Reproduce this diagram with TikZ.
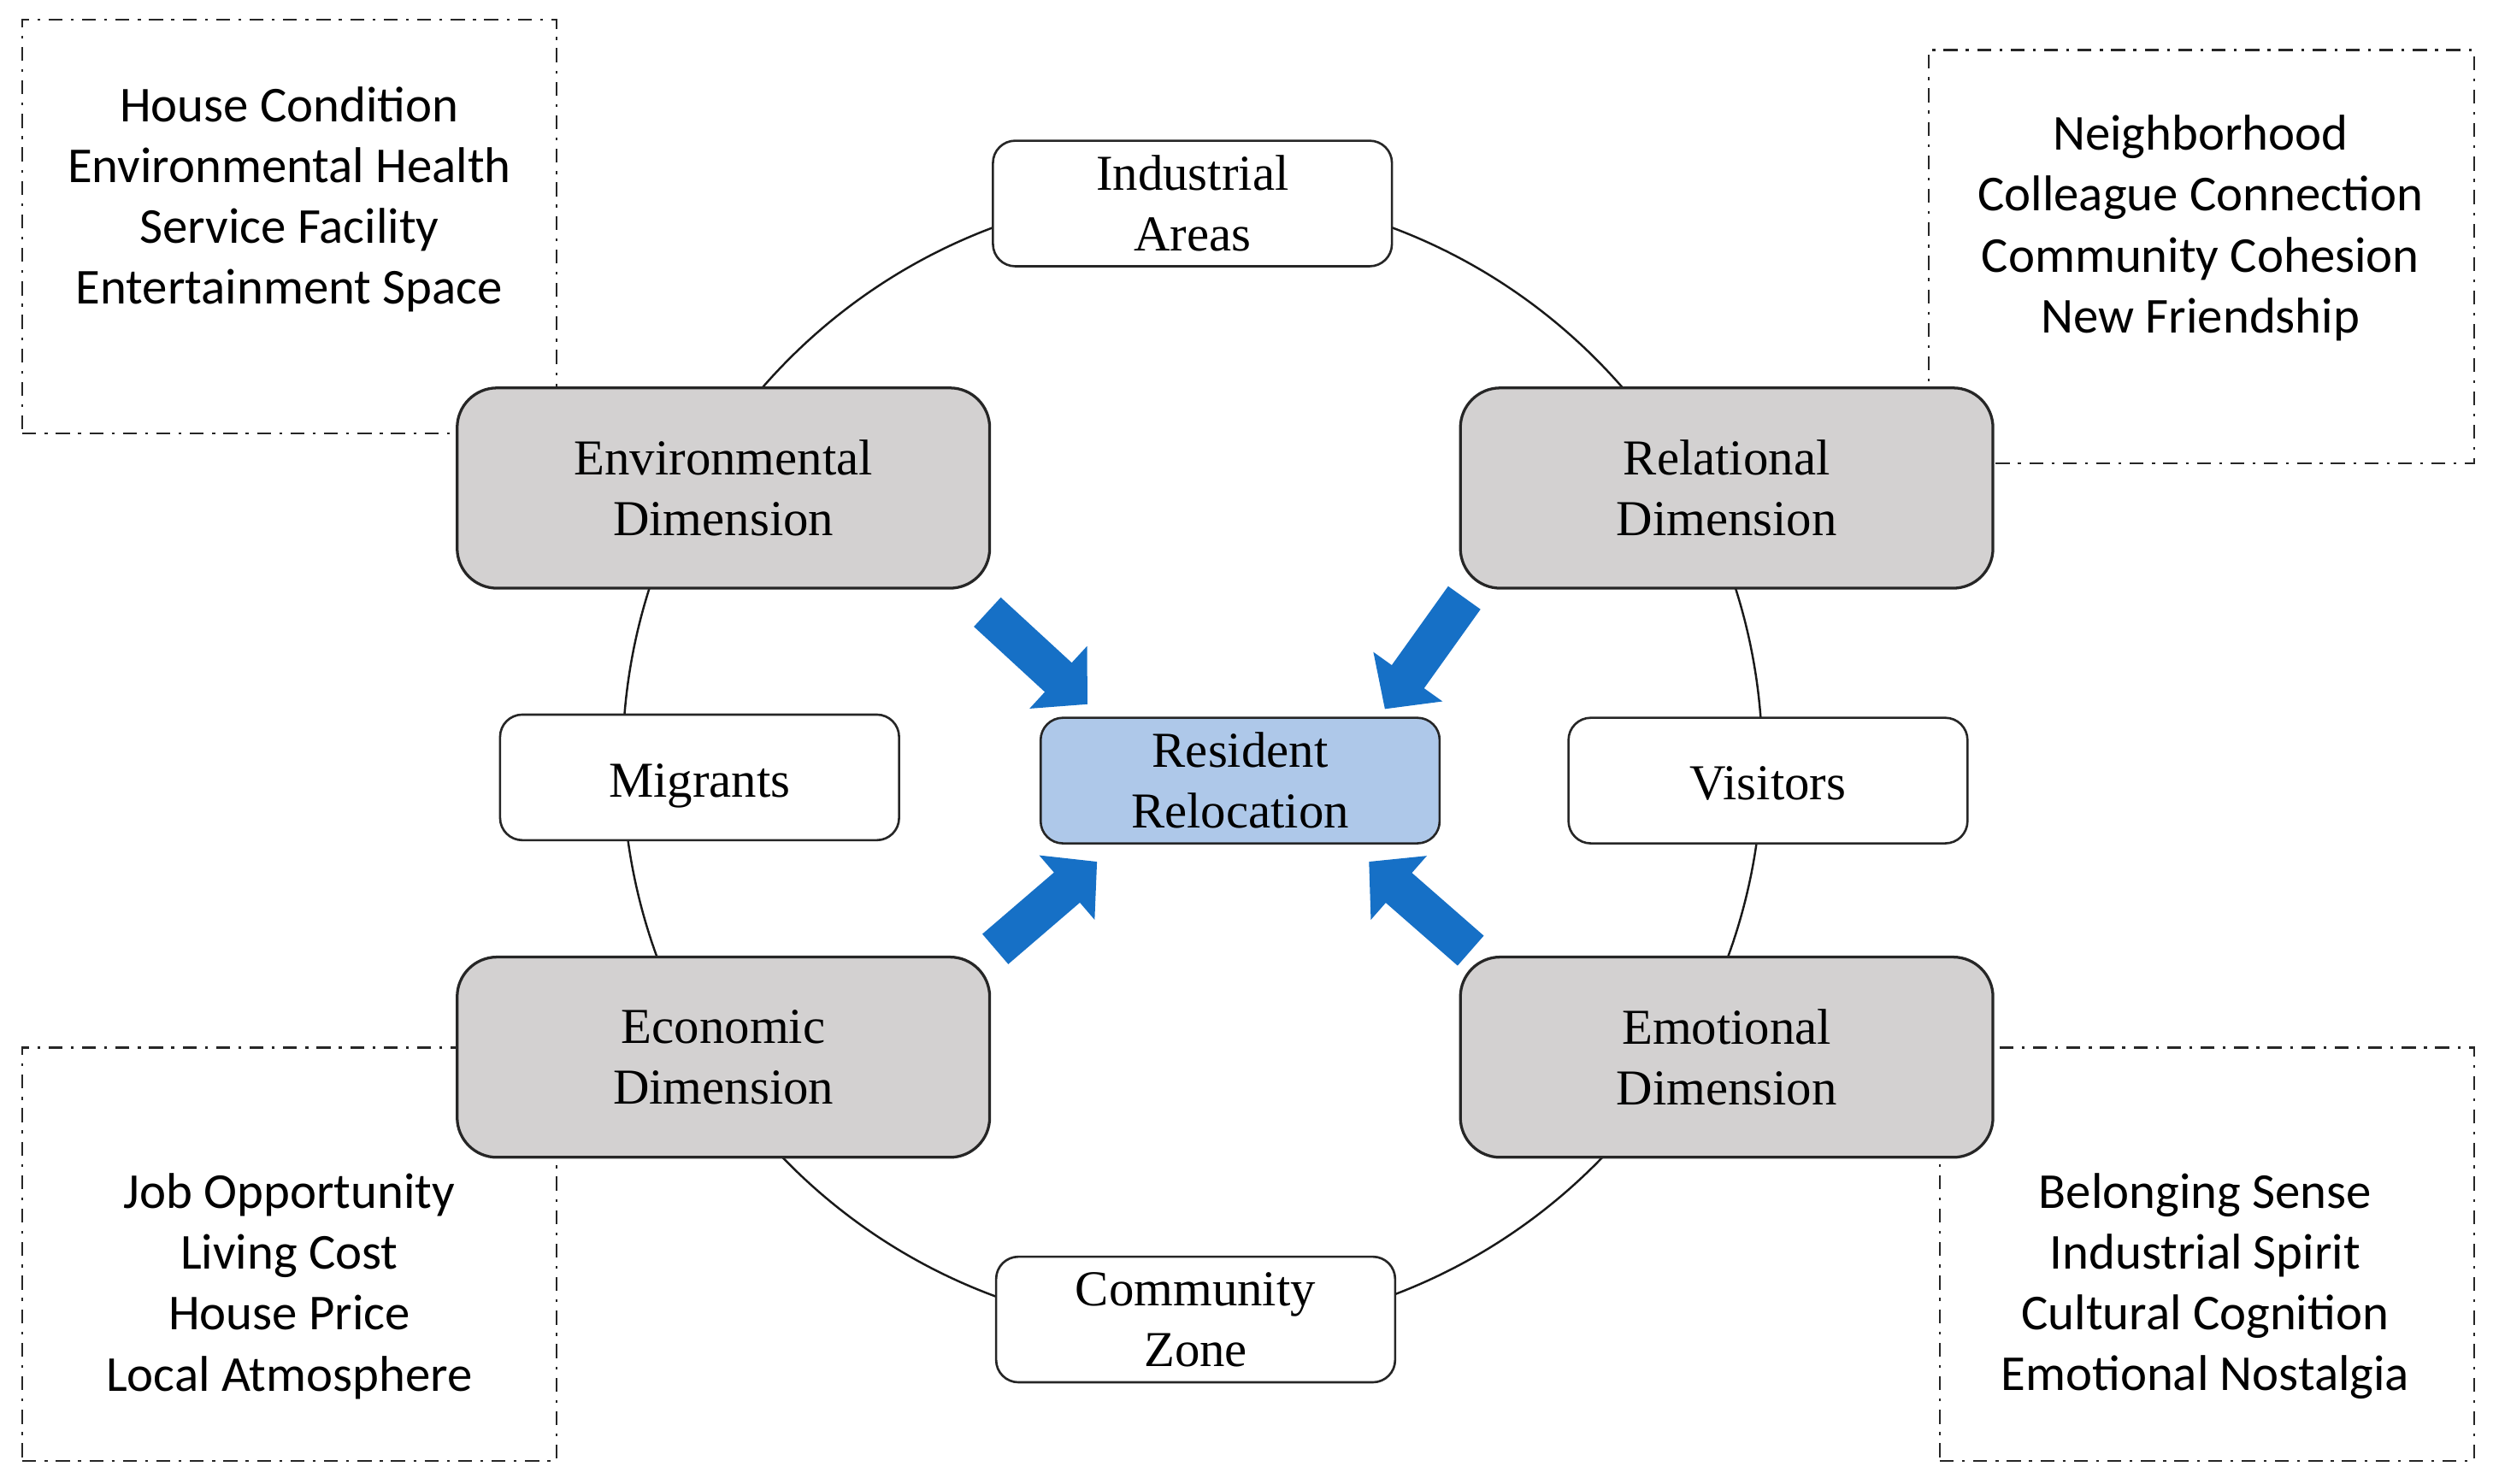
\documentclass[tikz,border=0pt]{standalone}
\usepackage{fontspec}
\setmainfont{Liberation Serif}
\newfontfamily\factorfont{Carlito}
\usepackage{tikz}
\usetikzlibrary{positioning}
\usetikzlibrary{arrows.meta}

\definecolor{dimgray}{HTML}{D3D1D1}
\definecolor{residentblue}{HTML}{AEC8E9}
\definecolor{arrowblue}{HTML}{1670C6}

\tikzset{
  boxfont/.style={font=\fontsize{18}{21.6}\selectfont},
  dimbox/.style={draw=black!85, line width=1pt, rounded corners=0.5cm, fill=dimgray,
    minimum width=6.7cm, minimum height=2.52cm, align=center, boxfont},
  groupbox/.style={draw=black!85, line width=0.8pt, rounded corners=0.28cm, fill=white,
    minimum width=5.02cm, minimum height=1.58cm, align=center, boxfont},
  oneline/.style={text height=16pt, text depth=2pt},
  factorframe/.style={draw=black!85, line width=0.7pt, dash pattern=on 5pt off 3pt on 1pt off 3pt,
    minimum height=5.2cm, inner sep=0pt},
  factortext/.style={align=center, font=\factorfont\fontsize{18}{21.8}\selectfont},
  bigarrow/.style={draw=arrowblue, line width=0.5cm, -{Triangle[width=1.04cm, length=0.5cm]}}
}

\begin{document}
\begin{tikzpicture}[x=0.02cm, y=-0.02cm]
  \useasboundingbox (0,0) rectangle (1568,933);

  % Factor frames
  \node[factorframe, minimum width=6.72cm] (envframe) at (182,142.5) {};
  \node[factorframe, minimum width=6.86cm] (relframe) at (1384.5,161.5) {};
  \node[factorframe, minimum width=6.72cm] (ecoframe) at (182,789) {};
  \node[factorframe, minimum width=6.72cm] (emoframe) at (1388,789) {};

  \node[factortext] (envlist) at (182,125.5)
    {House Condition\\Environmental Health\\Service Facility\\Entertainment Space};
  \node[factortext] (rellist) at (1384,143.5)
    {Neighborhood\\Colleague Connection\\Community Cohesion\\New Friendship};
  \node[factortext] (ecolist) at (182,809)
    {Job Opportunity\\Living Cost\\House Price\\Local Atmosphere};
  \node[factortext] (emolist) at (1387,809)
    {Belonging Sense\\Industrial Spirit\\Cultural Cognition\\Emotional Nostalgia};

  % Ring
  \coordinate (hub) at (750,479);
  \draw[line width=0.75pt, black!90] (hub) circle[radius=7.17cm];

  % Groups on the ring
  \node[groupbox] (industrial) at (750,128) {Industrial\\Areas};
  \node[groupbox] (community) at (752,830) {Community\\Zone};
  \node[groupbox, oneline] (migrants) at (440,489) {Migrants};
  \node[groupbox, oneline] (visitors) at (1112,491) {Visitors};

  % Dimensions
  \node[dimbox] (env) at (455,307) {Environmental\\Dimension};
  \node[dimbox] (rel) at (1086,307) {Relational\\Dimension};
  \node[dimbox] (eco) at (455,665) {Economic\\Dimension};
  \node[dimbox] (emo) at (1086,665) {Emotional\\Dimension};

  % Centre
  \node[groupbox, fill=residentblue] (resident) at (780,491) {Resident\\Relocation};

  % Arrows into the centre
  \coordinate (envtail) at (621,385);
  \coordinate (envtip) at (684,443);
  \coordinate (reltail) at (921,376);
  \coordinate (reltip) at (871,446);
  \coordinate (ecotail) at (626,597);
  \coordinate (ecotip) at (690,542);
  \coordinate (emotail) at (925,598);
  \coordinate (emotip) at (861,542);

  \draw[bigarrow] (envtail) -- (envtip);
  \draw[bigarrow] (reltail) -- (reltip);
  \draw[bigarrow] (ecotail) -- (ecotip);
  \draw[bigarrow] (emotail) -- (emotip);
\end{tikzpicture}
\end{document}
